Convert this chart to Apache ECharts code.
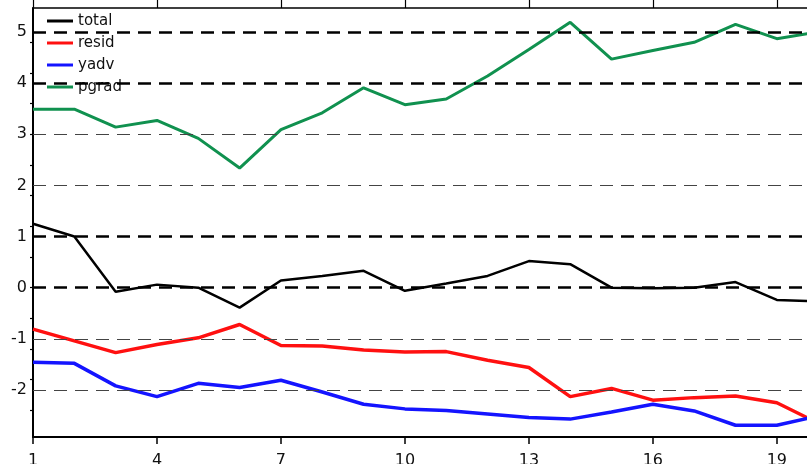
<!DOCTYPE html>
<html>
<head>
<meta charset="utf-8">
<script src="https://cdn.jsdelivr.net/npm/echarts@6/dist/echarts.min.js"></script>
<style>
  html, body { margin: 0; padding: 0; background: #fff; }
  #chart { width: 807px; height: 464px; }
</style>
</head>
<body>
<div id="chart"></div>
<script>
// Time steps 1..20
const steps = [1,2,3,4,5,6,7,8,9,10,11,12,13,14,15,16,17,18,19,20];

// Budget terms
const total = [1.25, 1.0, -0.08, 0.06, 0.0, -0.39, 0.14, 0.23, 0.33, -0.06, 0.08, 0.23, 0.52, 0.46, 0.0, -0.01, 0.0, 0.11, -0.24, -0.27];
const resid = [-0.81, -1.04, -1.27, -1.11, -0.98, -0.72, -1.13, -1.14, -1.22, -1.26, -1.25, -1.42, -1.56, -2.13, -1.97, -2.2, -2.15, -2.12, -2.25, -2.65];
const yadv  = [-1.46, -1.48, -1.92, -2.13, -1.87, -1.95, -1.81, -2.04, -2.28, -2.37, -2.4, -2.47, -2.54, -2.57, -2.43, -2.28, -2.41, -2.69, -2.69, -2.51];
const pgrad = [3.49, 3.49, 3.14, 3.27, 2.92, 2.34, 3.09, 3.42, 3.91, 3.58, 3.69, 4.14, 4.66, 5.19, 4.47, 4.64, 4.8, 5.15, 4.87, 5.0];

// Axis ticks and reference levels
const xTickValues = [1, 4, 7, 10, 13, 16, 19];
const yLabelValues = [-2, -1, 0, 1, 2, 3, 4, 5];
const yMinorTicks = [-2.4, -1.8, -1.2, -0.6, 0, 0.6, 1.2, 1.8, 2.4, 3.0, 3.6, 4.2, 4.8];
const boldLevels = [5, 4, 1, 0];
const thinLevels = [3, 2, -1, -2];

const X_MIN = 1, X_MAX = 19.73, Y_MIN = -2.92, Y_MAX = 5.47;

const names = ['total', 'resid', 'yadv', 'pgrad'];
const colors = ['#000000', '#ff1010', '#1414ff', '#10914f'];
const widths = [2.5, 3.5, 3.5, 3];
const values = [total, resid, yadv, pgrad];

const pairs = arr => steps.map((s, i) => [s, arr[i]]);

const font = '"DejaVu Sans", sans-serif';

const chart = echarts.init(document.getElementById('chart'), null, { renderer: 'canvas' });

const series = [
  {
    name: 'levels',
    type: 'line',
    data: [],
    z: 1,
    silent: true,
    markLine: {
      silent: true,
      symbol: ['none', 'none'],
      label: { show: false },
      animation: false,
      data: [
        ...boldLevels.map(v => ({ yAxis: v, lineStyle: { color: '#000', width: 2.5, type: [13, 8] } })),
        ...thinLevels.map(v => ({ yAxis: v, lineStyle: { color: '#444', width: 1.2, type: [13, 8] } }))
      ]
    }
  },
  ...names.map((n, k) => ({
    name: n,
    type: 'line',
    data: pairs(values[k]),
    showSymbol: false,
    symbol: 'none',
    clip: true,
    z: 3,
    lineStyle: { color: colors[k], width: widths[k] },
    itemStyle: { color: colors[k] }
  }))
];

chart.setOption({
  animation: false,
  backgroundColor: '#fff',
  grid: { left: 33, right: 0, top: 8, bottom: 27, containLabel: false, outerBoundsMode: 'none' },
  legend: {
    orient: 'vertical',
    left: 42,
    top: 8,
    itemGap: 6,
    itemWidth: 26,
    itemHeight: 3,
    icon: 'rect',
    data: names.map((n, k) => ({ name: n, itemStyle: { color: colors[k] } })),
    textStyle: { fontFamily: font, fontSize: 15, color: '#111', lineHeight: 16 }
  },
  xAxis: [
    {
      type: 'value',
      position: 'bottom',
      min: X_MIN, max: X_MAX,
      axisLine: { onZero: false, lineStyle: { color: '#000', width: 2 } },
      axisTick: { show: true, inside: false, length: 7, customValues: xTickValues, lineStyle: { color: '#000', width: 1.5 } },
      axisLabel: { customValues: xTickValues, fontFamily: font, fontSize: 16, color: '#111', margin: 16 },
      splitLine: { show: false }
    },
    {
      type: 'value',
      position: 'top',
      min: X_MIN, max: X_MAX,
      axisLine: { onZero: false, lineStyle: { color: '#000', width: 1.5 } },
      axisTick: { show: true, inside: false, length: 9, customValues: xTickValues, lineStyle: { color: '#000', width: 1.2 } },
      axisLabel: { show: false },
      splitLine: { show: false }
    }
  ],
  yAxis: {
    type: 'value',
    min: Y_MIN, max: Y_MAX,
    axisLine: { show: true, onZero: false, lineStyle: { color: '#000', width: 2 } },
    axisTick: { show: true, inside: false, length: 3, customValues: yMinorTicks, lineStyle: { color: '#000', width: 1.2 } },
    axisLabel: { customValues: yLabelValues, fontFamily: font, fontSize: 16, color: '#111', margin: 6 },
    splitLine: { show: false }
  },
  series: series
});
</script>
</body>
</html>
